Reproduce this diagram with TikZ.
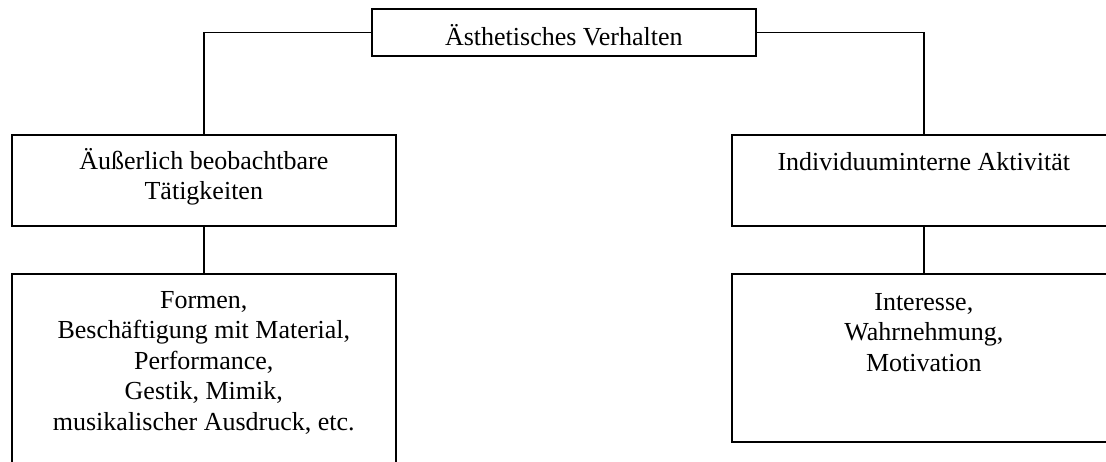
\documentclass[tikz,border=0pt]{standalone}
\usepackage{fontspec}
\setmainfont{Liberation Serif}
\begin{document}
\begin{tikzpicture}[x=1pt,y=-1pt,
  box/.style={draw, line width=1.6pt, rectangle, inner sep=0pt,
    anchor=north west, minimum width=384pt},
  boxtext/.style={anchor=base, inner sep=0pt,
    font=\fontsize{26}{30.5}\selectfont},
  link/.style={line width=1.6pt}]
\clip (0,0) rectangle (1106,461);

% boxes
\node[box, minimum height=47pt]  (top)      at (371,8)   {};
\node[box, minimum height=91pt]  (ext)      at (11,134)  {};
\node[box, minimum height=91pt]  (int)      at (731,134) {};
\node[box, minimum height=220pt] (extlist)  at (11,273)  {};
\node[box, minimum height=168pt] (intlist)  at (731,273) {};

% texts, first baseline a fixed distance below the box top
\node[boxtext] (topT) at ([yshift=-37pt]top.north)
  {\parbox[t]{370pt}{\centering Ästhetisches Verhalten}};
\node[boxtext] (extT) at ([yshift=-35pt]ext.north)
  {\parbox[t]{370pt}{\centering Äußerlich beobachtbare\\ Tätigkeiten}};
\node[boxtext] (intT) at ([yshift=-36pt]int.north)
  {\parbox[t]{370pt}{\centering Individuuminterne Aktivität}};
\node[boxtext] (extlistT) at ([yshift=-35pt]extlist.north)
  {\parbox[t]{370pt}{\centering Formen,\\ Beschäftigung mit Material,\\ Performance,\\ Gestik, Mimik,\\ musikalischer Ausdruck, etc.}};
\node[boxtext] (intlistT) at ([yshift=-37pt]intlist.north)
  {\parbox[t]{370pt}{\centering Interesse,\\ Wahrnehmung,\\ Motivation}};

% connectors
\draw[link] (top.west) -| (ext.north);
\draw[link] (top.east) -| (int.north);
\draw[link] (ext.south) -- (extlist.north);
\draw[link] (int.south) -- (intlist.north);
\end{tikzpicture}
\end{document}
